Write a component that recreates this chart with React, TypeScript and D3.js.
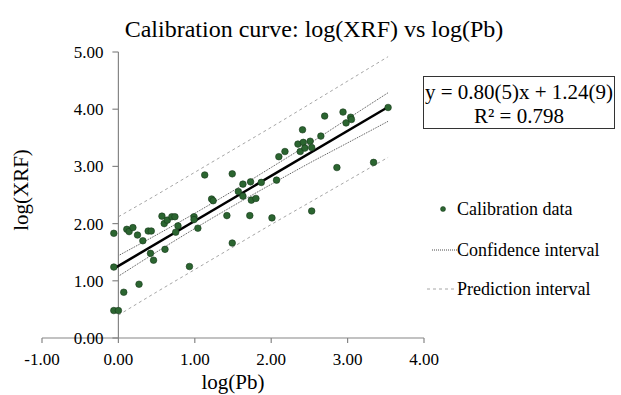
import React from "react";
import * as d3 from "d3";

const W = 621;
const H = 395;

// Calibration data: log(Pb), log(XRF)
const logPb = [
  -0.06, -0.06, -0.06, 0.0, 0.07, 0.11, 0.14, 0.19, 0.25, 0.27, 0.32, 0.39, 0.43, 0.42, 0.46,
  0.57, 0.60, 0.61, 0.64, 0.70, 0.74, 0.75, 0.78, 0.93, 0.99, 0.99, 1.04, 1.13, 1.22, 1.24,
  1.42, 1.49, 1.49, 1.57, 1.63, 1.63, 1.73, 1.74, 1.72, 1.80, 1.87, 2.01, 2.07, 2.10, 2.18,
  2.35, 2.42, 2.38, 2.44, 2.41, 2.51, 2.53, 2.53, 2.65, 2.70, 2.86, 2.94, 2.98, 3.04, 3.05,
  3.34, 3.53,
];
const logXRF = [
  1.83, 1.24, 0.48, 0.48, 0.80, 1.90, 1.86, 1.93, 1.80, 0.94, 1.70, 1.87, 1.87, 1.48, 1.36,
  2.13, 2.00, 1.55, 2.06, 2.12, 2.12, 1.85, 1.96, 1.25, 2.12, 2.07, 1.92, 2.85, 2.43, 2.40,
  2.14, 1.66, 2.87, 2.56, 2.69, 2.48, 2.73, 2.41, 2.14, 2.44, 2.72, 2.10, 2.76, 3.17, 3.26,
  3.39, 3.42, 3.26, 3.32, 3.64, 3.44, 3.33, 2.22, 3.53, 3.88, 2.98, 3.95, 3.76, 3.86, 3.82,
  3.07, 4.03,
];

// Fitted line (as drawn)
const fitSlope = 0.787;
const fitIntercept = 1.26;
const fitRange = [-0.07, 3.53];

// Interval half-widths, along log(Pb)
const bandX = [0, 0.5, 1.0, 1.5, 2.0, 2.5, 3.0, 3.53];
const ciHalf = [0.18, 0.15, 0.133, 0.132, 0.147, 0.17, 0.21, 0.25];
const piHalf = [0.86, 0.85, 0.85, 0.85, 0.85, 0.86, 0.87, 0.88];

const xTicks = [-1, 0, 1, 2, 3, 4];
const yTicks = [0, 1, 2, 3, 4, 5];

const title = "Calibration curve: log(XRF) vs log(Pb)";
const xTitle = "log(Pb)";
const yTitle = "log(XRF)";
const eqLine1 = "y = 0.80(5)x + 1.24(9)";
const eqLine2 = "R\u00b2 = 0.798";
const legendLabels = ["Calibration data", "Confidence interval", "Prediction interval"];

const FONT = "'Liberation Serif', 'Times New Roman', serif";

export default function App() {
  const x = d3.scaleLinear().domain([-1, 4]).range([42, 424]);
  const y = d3.scaleLinear().domain([0, 5]).range([338, 52]);

  const fit = (v: number) => fitSlope * v + fitIntercept;
  const line = d3
    .line<[number, number]>()
    .x((d) => x(d[0]))
    .y((d) => y(d[1]))
    .curve(d3.curveMonotoneX);

  const fitPath = line(fitRange.map((v) => [v, fit(v)] as [number, number]));
  const band = (hw: number[], sign: number) =>
    line(bandX.map((v, i) => [v, fit(v) + sign * hw[i]] as [number, number]));

  const axisColor = "#868686";
  const dotFill = "#2b6530";
  const dotStroke = "#17391b";

  return (
    <div style={{ position: "absolute", left: 0, top: 0 }}>
      <svg width={W} height={H} style={{ display: "block", background: "#fff" }} fontFamily={FONT}>
        <text x={314} y={37} textAnchor="middle" fontSize={24} fill="#000">
          {title}
        </text>

        {/* prediction interval */}
        <path d={band(piHalf, 1) || ""} fill="none" stroke="#a6a6a6" strokeWidth={1} strokeDasharray="3,3" />
        <path d={band(piHalf, -1) || ""} fill="none" stroke="#a6a6a6" strokeWidth={1} strokeDasharray="3,3" />
        {/* confidence interval */}
        <path d={band(ciHalf, 1) || ""} fill="none" stroke="#4d4d4d" strokeWidth={1} strokeDasharray="1,1" />
        <path d={band(ciHalf, -1) || ""} fill="none" stroke="#4d4d4d" strokeWidth={1} strokeDasharray="1,1" />

        {/* axes */}
        <line x1={x(-1)} x2={x(4)} y1={y(0)} y2={y(0)} stroke={axisColor} strokeWidth={1.2} />
        {xTicks.map((t) => (
          <g key={"xt" + t}>
            <line x1={x(t)} x2={x(t)} y1={y(0)} y2={y(0) + 5} stroke={axisColor} strokeWidth={1.2} />
            <text x={x(t)} y={y(0) + 27} textAnchor="middle" fontSize={17} fill="#000">
              {t.toFixed(2)}
            </text>
          </g>
        ))}
        <line x1={x(0)} x2={x(0)} y1={y(0)} y2={y(5)} stroke={axisColor} strokeWidth={1.2} />
        {yTicks.map((t) => (
          <g key={"yt" + t}>
            <line x1={x(0) - 6} x2={x(0)} y1={y(t)} y2={y(t)} stroke={axisColor} strokeWidth={1.2} />
            <text x={x(0) - 15} y={y(t) + 6} textAnchor="end" fontSize={17} fill="#000">
              {t.toFixed(2)}
            </text>
          </g>
        ))}

        {/* fit line */}
        <path d={fitPath || ""} fill="none" stroke="#000" strokeWidth={2.5} />

        {/* data */}
        {logPb.map((v, i) => (
          <circle key={"p" + i} cx={x(v)} cy={y(logXRF[i])} r={3.3} fill={dotFill} stroke={dotStroke} strokeWidth={0.6} />
        ))}

        {/* axis titles */}
        <text x={233} y={389} textAnchor="middle" fontSize={21} fill="#000">
          {xTitle}
        </text>
        <text transform={`translate(28, 190) rotate(-90)`} textAnchor="middle" fontSize={21} fill="#000">
          {yTitle}
        </text>

        {/* equation box */}
        <rect x={423.5} y={76.5} width={191} height={52} fill="#fff" stroke="#333" strokeWidth={1} />
        <text x={519} y={99} textAnchor="middle" fontSize={21} fill="#000">
          {eqLine1}
        </text>
        <text x={519} y={123} textAnchor="middle" fontSize={21} fill="#000">
          {eqLine2}
        </text>

        {/* legend */}
        <circle cx={443} cy={209} r={2.5} fill={dotFill} stroke={dotStroke} strokeWidth={0.5} />
        <text x={457} y={215} fontSize={18} fill="#000">
          {legendLabels[0]}
        </text>
        <line x1={432} x2={457} y1={250} y2={250} stroke="#4d4d4d" strokeWidth={1} strokeDasharray="1,1" />
        <text x={457} y={256} fontSize={18} fill="#000">
          {legendLabels[1]}
        </text>
        <line x1={427} x2={457} y1={289} y2={289} stroke="#a6a6a6" strokeWidth={1} strokeDasharray="3,3" />
        <text x={457} y={295} fontSize={18} fill="#000">
          {legendLabels[2]}
        </text>
      </svg>
    </div>
  );
}
